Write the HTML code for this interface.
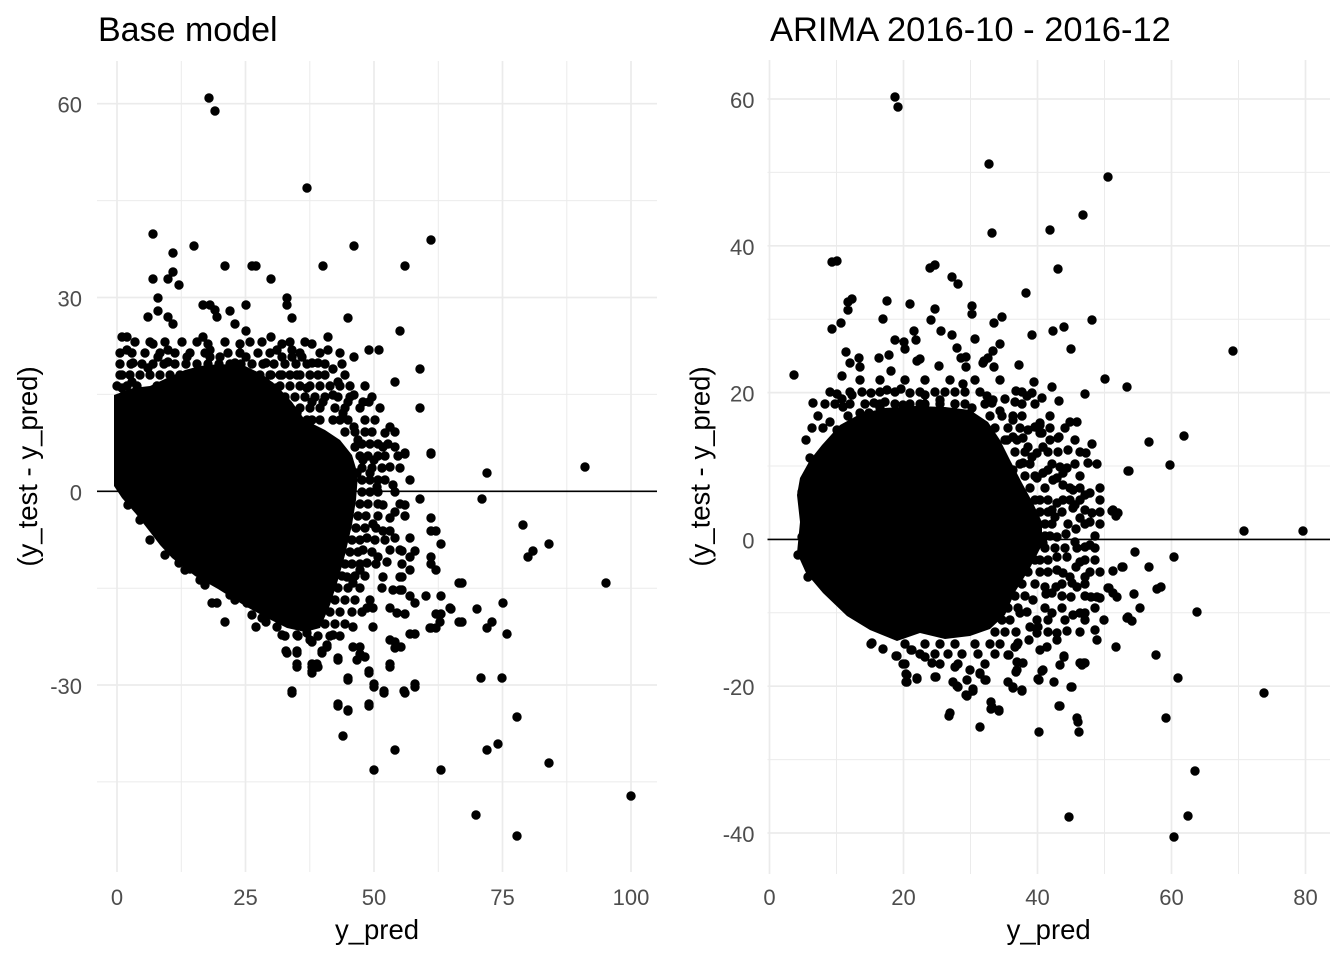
<!DOCTYPE html>
<html><head><meta charset="utf-8"><style>
html,body{margin:0;padding:0;background:#fff;}
svg{display:block;}
text{font-family:"Liberation Sans",Arial,sans-serif;}
</style></head><body>
<svg width="1344" height="960" viewBox="0 0 1344 960" xmlns="http://www.w3.org/2000/svg">
<rect width="1344" height="960" fill="#fff"/>
<!-- LEFT PANEL GRID -->
<g stroke="#EBEBEB" fill="none">
<g stroke-width="1">
<path d="M181.3 61V872M309.8 61V872M438.3 61V872M566.8 61V872"/>
<path d="M97 200.6H657M97 394.4H657M97 588.2H657M97 781.9H657"/>
</g>
<g stroke-width="1.7">
<path d="M117 61V872M245.5 61V872M374 61V872M502.5 61V872M631 61V872"/>
<path d="M97 103.7H657M97 297.5H657M97 491.3H657M97 685H657"/>
</g>
</g>
<!-- RIGHT PANEL GRID -->
<g stroke="#EBEBEB" fill="none">
<g stroke-width="1">
<path d="M836.5 60V874M970.5 60V874M1104.5 60V874M1238.5 60V874"/>
<path d="M767.5 172.4H1330M767.5 319.2H1330M767.5 466H1330M767.5 612.8H1330M767.5 759.6H1330"/>
</g>
<g stroke-width="1.7">
<path d="M769.5 60V874M903.5 60V874M1037.5 60V874M1171.5 60V874M1305.5 60V874"/>
<path d="M767.5 99H1330M767.5 245.8H1330M767.5 392.6H1330M767.5 539.4H1330M767.5 686.2H1330M767.5 833H1330"/>
</g>
</g>

<!-- LEFT CORE -->
<path fill="#000" d="M114,395 L133,388 L150,386 L167,378 L185,370 L200,366 L220,364 L245,366 L262,374 L277,386 L292,402 L305,420 L325,430 L340,440 L352,455 L358,475 L356,500 L352,525 L345,555 L338,580 L330,605 L320,628 L305,632 L287,628 L267,618 L245,606 L218,589 L195,576 L172,558 L160,545 L150,532 L136,514 L122,498 L114,486 Z"/>
<!-- RIGHT CORE -->
<path fill="#000" d="M797,495 L800,478 L810,460 L822,445 L840,425 L860,414 L885,408 L915,406 L945,407 L970,410 L988,422 L1000,440 L1010,460 L1022,483 L1033,503 L1042,522 L1042,545 L1030,568 L1015,592 L1005,615 L990,629 L970,636 L945,639 L920,633 L897,641 L870,630 L847,616 L823,593 L806,573 L797,553 L800,522 Z"/>

<!-- LEFT FILL (semi-dense halo) -->
<path fill="none" stroke="#000" stroke-width="9.4" stroke-linecap="round" d="M135 342h0M150 342h0M165 342h0M182 342h0M197 342h0M225 342h0M250 342h0M262 342h0M290 342h0M305 342h0
M120 353h0M132 353h0M145 353h0M160 353h0M175 353h0M190 353h0M205 353h0M228 353h0M240 353h0M258 353h0M270 353h0M300 353h0M320 353h0M340 353h0
M120 364h0M131 364h0M142 364h0M153 364h0M164 364h0M175 364h0M186 364h0M197 364h0M208 364h0M219 364h0M230 364h0M241 364h0M252 364h0M263 364h0M274 364h0M285 364h0M296 364h0M307 364h0M325 364h0M342 364h0
M120 375h0M130 375h0M140 375h0M150 375h0M160 375h0M170 375h0M180 375h0M190 375h0M200 375h0M210 375h0M220 375h0M230 375h0M240 375h0M250 375h0M260 375h0M270 375h0M280 375h0M290 375h0M300 375h0M310 375h0M325 375h0M345 375h0
M117 386h0M127 386h0M137 386h0M157 386h0M177 386h0M270 386h0M280 386h0M290 386h0M300 386h0M310 386h0M320 386h0M330 386h0M340 386h0M350 386h0M365 386h0
M285 397h0M295 397h0M305 397h0M315 397h0M325 397h0M338 397h0M350 397h0M372 397h0
M300 408h0M310 408h0M320 408h0M335 408h0M345 408h0M360 408h0M380 408h0
M320 420h0M340 420h0M348 420h0M365 420h0M375 420h0
M345 432h0M355 432h0M365 432h0M372 432h0M395 432h0
M362 444h0M370 444h0M378 444h0M388 444h0
M360 456h0M368 456h0M378 456h0M385 456h0M398 456h0
M362 468h0M372 468h0M382 468h0M400 468h0
M362 480h0M370 480h0M385 480h0M410 480h0
M362 492h0M370 492h0M378 492h0M395 492h0
M360 504h0M368 504h0M378 504h0M400 504h0
M358 516h0M366 516h0M378 516h0M405 516h0
M356 528h0M365 528h0M376 528h0
M352 540h0M360 540h0M375 540h0M385 540h0
M350 552h0M358 552h0M372 552h0
M345 564h0M352 564h0M360 564h0M376 564h0
M342 576h0M355 576h0M365 576h0
M338 588h0M348 588h0M360 588h0M382 588h0
M335 600h0M345 600h0M355 600h0M370 600h0
M330 612h0M340 612h0M352 612h0M362 612h0
M325 624h0M335 624h0M345 624h0
M298 636h0M318 636h0M330 636h0M340 636h0
M128 505h0M140 520h0M150 540h0M165 555h0M185 570h0M205 585h0M235 600h0M262 618h0M285 636h0"/>

<!-- LEFT POINTS -->
<path fill="none" stroke="#000" stroke-width="9.4" stroke-linecap="round" d="M209 98h0M215 111h0M307 188h0M153 234h0M194 246h0M354 246h0M431 240h0M173 253h0M225 266h0M252 266h0M256 266h0M323 266h0M405 266h0M153 279h0M168 279h0M173 272h0M179 285h0M271 279h0M158 298h0M287 298h0M287 305h0M203 305h0M210 305h0M215 310h0M217 317h0M230 311h0M246 305h0M158 311h0M148 317h0M168 317h0M173 324h0M292 318h0M348 318h0M235 324h0M246 331h0M400 331h0M122 337h0M127 337h0M203 337h0M271 337h0M328 337h0M153 344h0M208 344h0M240 344h0M282 344h0M312 344h0M127 350h0M168 350h0M210 350h0M277 350h0M292 350h0M328 350h0M369 350h0M379 350h0M158 357h0M168 362h0M187 357h0M210 357h0M220 357h0M246 357h0M282 357h0M292 357h0M302 357h0M354 357h0M133 363h0M148 368h0M235 363h0M266 363h0M312 363h0M318 363h0M333 369h0M420 369h0M122 375h0M271 375h0M282 375h0M297 375h0M318 375h0M132 382h0M338 382h0M395 382h0M122 388h0M307 388h0M276 388h0M333 395h0M354 395h0M312 402h0M323 402h0M348 402h0M363 402h0M369 402h0M420 408h0M127 402h0M297 413h0M343 413h0M307 420h0M312 420h0M333 420h0M354 427h0M390 427h0M385 433h0M358 440h0M383 447h0M395 447h0M405 453h0M431 453h0M355 447h0M363 460h0M374 460h0M390 467h0M357 473h0M370 473h0M378 480h0M393 485h0M377 487h0
M405 454h0M431 454h0M487 473h0M585 467h0M405 505h0M420 499h0M482 499h0M431 518h0M431 531h0M436 531h0M410 538h0M441 544h0M523 525h0M549 544h0M533 551h0M528 557h0M402 551h0M415 551h0M410 557h0M431 557h0M431 564h0M436 570h0M402 564h0M410 570h0M402 577h0M462 583h0M606 583h0M402 590h0M410 596h0M415 603h0M426 596h0M441 596h0M405 614h0M436 614h0M441 614h0M440 622h0M451 609h0M477 609h0M503 603h0M462 622h0M492 622h0M487 628h0M431 628h0M436 628h0M410 634h0M415 634h0M507 634h0
M383 505h0M395 512h0M390 518h0M373 524h0M383 531h0M390 531h0M395 538h0M367 538h0M363 550h0M390 550h0M400 550h0M378 557h0M387 562h0M367 563h0M400 577h0M383 577h0M347 577h0M360 570h0M459 583h0M353 583h0M393 590h0M400 590h0M367 608h0M373 608h0M390 608h0M397 613h0M450 608h0M459 622h0M430 628h0M353 627h0M373 627h0M333 635h0M390 640h0M395 648h0M310 640h0M353 647h0M327 647h0M322 653h0M357 660h0M338 660h0M287 653h0M297 653h0M297 667h0M312 667h0M318 667h0M312 673h0M390 667h0M369 673h0M348 680h0M374 687h0M384 693h0M405 693h0M415 687h0M292 693h0M338 706h0M369 706h0M348 710h0M217 603h0M212 603h0M225 622h0M179 563h0M190 569h0M200 580h0M230 595h0M252 615h0M256 627h0M266 622h0M277 627h0M282 635h0M297 635h0M307 633h0M247 603h0
M481 678h0M502 678h0M517 717h0M498 744h0M487 750h0M549 763h0M631 796h0M476 815h0M517 836h0M441 770h0M374 770h0M395 750h0M343 736h0M348 711h0M338 704h0M369 704h0M292 691h0M374 684h0M384 691h0M404 691h0M415 684h0M348 678h0M369 671h0M390 664h0M338 658h0M312 671h0M312 664h0M317 664h0M297 664h0M286 651h0M297 651h0M322 651h0M327 645h0M360 654h0M365 657h0M360 647h0M401 647h0M395 642h0M312 642h0"/>

<!-- RIGHT FILL (semi-dense halo) -->
<path fill="none" stroke="#000" stroke-width="9.4" stroke-linecap="round" d="M860 380h0M880 380h0M905 380h0M925 380h0M950 380h0M975 380h0M1000 380h0
M830 392h0M850 392h0M862 392h0M880 392h0M895 392h0M920 392h0M935 392h0M955 392h0M965 392h0M980 392h0M1022 392h0
M825 404h0M835 404h0M850 404h0M865 404h0M880 404h0M895 404h0M910 404h0M925 404h0M940 404h0M955 404h0M965 404h0M985 404h0M1022 404h0M1035 404h0
M818 416h0M848 416h0M990 416h0M1002 416h0M1022 416h0M1050 416h0
M812 428h0M995 428h0M1008 428h0M1020 428h0M1050 428h0M1065 428h0
M806 440h0M1005 440h0M1017 440h0M1050 440h0M1075 440h0
M1015 452h0M1025 452h0M1058 452h0M1080 452h0
M1020 464h0M1030 464h0M1052 464h0M1075 464h0M1097 464h0
M1025 476h0M1035 476h0M1080 476h0
M1030 488h0M1045 488h0M1080 488h0M1100 488h0
M1035 500h0M1048 500h0M1063 500h0M1080 500h0M1100 500h0
M1040 512h0M1048 512h0M1062 512h0M1100 512h0
M1045 524h0M1052 524h0M1068 524h0M1085 524h0M1100 524h0
M1045 536h0M1050 536h0M1095 536h0
M1045 548h0M1055 548h0M1065 548h0M1095 548h0
M1035 560h0M1048 560h0M1095 560h0
M1028 572h0M1048 572h0M1100 572h0
M1022 584h0M1035 584h0M1062 584h0M1085 584h0
M1015 596h0M1025 596h0M1062 596h0M1085 596h0
M1008 608h0M1018 608h0M1045 608h0M1062 608h0M1095 608h0
M1002 620h0M1010 620h0M1048 620h0M1065 620h0M1085 620h0
M995 632h0M1005 632h0M1048 632h0M1080 632h0
M905 644h0M925 644h0M940 644h0M955 644h0M975 644h0M990 644h0M1000 644h0
M920 654h0M935 654h0M948 654h0M962 654h0M978 654h0M995 654h0
M940 664h0M958 664h0M985 664h0"/>

<!-- RIGHT POINTS -->
<path fill="none" stroke="#000" stroke-width="9.4" stroke-linecap="round" d="M895 97h0M898 107h0M989 164h0M1108 177h0M1083 215h0M1050 230h0M992 233h0M832 262h0M837 261h0M930 268h0M935 265h0M952 277h0M958 284h0M1058 269h0M1026 293h0M848 302h0M852 299h0M848 310h0M887 301h0M910 304h0M935 309h0M931 320h0M972 306h0M972 314h0M994 323h0M1002 317h0M1092 320h0M832 329h0M841 323h0M883 319h0M914 331h0M916 340h0M941 331h0M952 335h0M975 339h0M1032 335h0M1053 331h0M1064 327h0M1071 349h0M895 340h0M904 342h0M905 349h0M957 348h0M1000 344h0M993 351h0M846 352h0M859 358h0M850 363h0M860 367h0M879 358h0M889 355h0M891 371h0M917 361h0M920 359h0M939 366h0M961 358h0M966 357h0M966 367h0M984 361h0M988 358h0M983 363h0M994 367h0M1019 365h0M794 375h0M842 376h0M963 384h0M1034 382h0M1052 387h0M1105 379h0M1127 387h0M813 403h0M1085 394h0M1059 401h0M1042 398h0M1032 393h0M1027 396h0M1016 391h0M1005 399h0M1015 402h0M1000 411h0M1013 416h0M1070 422h0M1077 422h0M1059 437h0M1040 425h0M1042 433h0M1028 430h0M987 396h0M993 400h0M992 403h0M972 408h0M837 394h0M842 399h0M843 407h0M852 395h0M871 393h0M874 403h0M887 390h0M885 402h0M901 389h0M910 393h0M903 405h0M860 413h0M858 423h0M869 413h0M830 422h0M823 428h0M837 430h0M880 408h0M920 404h0M940 400h0M955 404h0M925 395h0M945 392h0
M810 458h0M802 492h0M802 537h0M798 555h0M808 577h0M872 643h0M883 649h0M897 656h0M905 664h0M907 675h0M907 682h0M917 678h0M912 650h0M936 677h0M925 657h0M932 663h0M950 713h0M953 682h0M958 687h0M967 680h0M973 689h0M966 695h0M955 667h0M970 670h0M980 673h0M986 680h0M991 702h0M999 710h0M992 707h0M1008 682h0M1013 687h0M1022 691h0M1017 670h0M1023 663h0M1017 662h0M1009 655h0M1038 679h0M1043 670h0M1054 682h0M1059 706h0M1072 687h0M1060 665h0M1064 657h0M1082 665h0M1084 663h0M1077 718h0M1040 650h0M1047 647h0M1057 640h0M1057 633h0M1067 631h0M1029 640h0M1037 633h0M1018 643h0M1015 647h0M1016 632h0M1030 627h0M1038 627h0M1037 620h0M1020 613h0M1027 612h0M1052 613h0M1073 615h0M1080 613h0M1085 613h0M1095 630h0M1097 640h0M1104 620h0M1116 647h0M1127 618h0M1091 597h0M1097 597h0M1109 588h0M1117 597h0M1113 571h0M1122 567h0M1071 597h0M1077 587h0M1072 583h0M1056 587h0M1052 593h0M1046 594h0M1033 600h0M1090 572h0M1085 577h0M1076 567h0M1080 562h0M1085 560h0M1067 557h0M1057 557h0M1057 570h0M1063 573h0M1070 577h0M1040 572h0M1040 560h0M1045 587h0M1090 545h0M1085 547h0M1075 542h0M1077 548h0M1066 534h0M1057 537h0M1076 529h0M1037 543h0M1043 543h0M1113 510h0M1118 513h0M1092 513h0M1085 510h0M1090 522h0M1080 518h0M1073 508h0M1070 500h0M1075 505h0M1085 495h0M1090 493h0M1057 503h0M1052 510h0M1055 517h0M1040 500h0M1063 485h0M1070 488h0M1073 490h0M1053 480h0M1057 478h0M1043 473h0M1048 470h0M1037 478h0M1063 473h0M1067 468h0M1060 467h0M1128 471h0M1088 463h0M1086 453h0M1092 444h0M1068 450h0M1058 438h0M1013 470h0M1023 463h0M1032 457h0M1037 453h0M1048 452h0M1043 447h0M1028 447h0M1023 438h0M1040 433h0M1035 427h0M1040 423h0M1013 420h0M1007 440h0M1013 437h0
M1233 351h0M1149 442h0M1184 436h0M1170 465h0M1129 471h0M1112 511h0M1118 513h0M1116 516h0M1244 531h0M1303 531h0M1135 552h0M1174 557h0M1123 567h0M1113 571h0M1149 567h0M1108 588h0M1113 593h0M1117 597h0M1100 598h0M1134 594h0M1157 589h0M1161 587h0M1140 608h0M1197 612h0M1104 620h0M1128 617h0M1132 621h0M1156 655h0M1178 678h0M1264 693h0M1166 718h0M1195 771h0M1188 816h0M1174 837h0M1069 817h0M1039 732h0M1078 722h0M1079 732h0M1060 706h0M1071 687h0M1054 682h0M1039 680h0M1080 663h0M1085 663h0M1064 656h0M1042 671h0M1016 672h0M980 727h0M949 716h0M991 709h0M999 711h0M973 691h0M967 696h0M953 682h0M957 686h0M935 677h0M917 679h0M906 682h0M906 674h0M903 664h0M896 656h0M883 649h0M871 644h0M911 650h0M1008 655h0M1017 645h0M985 680h0M980 674h0M1008 682h0M1022 690h0M1013 688h0"/>

<!-- zero lines -->
<path d="M97 491.3H657" stroke="#000" stroke-width="1.6"/>
<path d="M767.5 539.4H1330" stroke="#000" stroke-width="1.6"/>

<!-- TITLES -->
<text x="98" y="41" font-size="34" fill="#000">Base model</text>
<text x="770" y="41" font-size="34.5" fill="#000">ARIMA 2016-10 - 2016-12</text>

<!-- LEFT TICK LABELS -->
<g font-size="22" fill="#4D4D4D" text-anchor="end">
<text x="82" y="112.7">60</text>
<text x="82" y="306.5">30</text>
<text x="82" y="500.3">0</text>
<text x="82" y="694">-30</text>
</g>
<g font-size="22" fill="#4D4D4D" text-anchor="middle">
<text x="117" y="905">0</text>
<text x="245.5" y="905">25</text>
<text x="374" y="905">50</text>
<text x="502.5" y="905">75</text>
<text x="631" y="905">100</text>
</g>
<!-- RIGHT TICK LABELS -->
<g font-size="22" fill="#4D4D4D" text-anchor="end">
<text x="754.5" y="108">60</text>
<text x="754.5" y="254.8">40</text>
<text x="754.5" y="401.6">20</text>
<text x="754.5" y="548.4">0</text>
<text x="754.5" y="695.2">-20</text>
<text x="754.5" y="842">-40</text>
</g>
<g font-size="22" fill="#4D4D4D" text-anchor="middle">
<text x="769.5" y="905">0</text>
<text x="903.5" y="905">20</text>
<text x="1037.5" y="905">40</text>
<text x="1171.5" y="905">60</text>
<text x="1305.5" y="905">80</text>
</g>

<!-- AXIS TITLES -->
<g font-size="27.5" fill="#000" text-anchor="middle">
<text x="377" y="939">y_pred</text>
<text x="1048.7" y="939">y_pred</text>
<text transform="translate(37,466.5) rotate(-90)">(y_test - y_pred)</text>
<text transform="translate(709.5,466.5) rotate(-90)">(y_test - y_pred)</text>
</g>
</svg>
</body></html>
